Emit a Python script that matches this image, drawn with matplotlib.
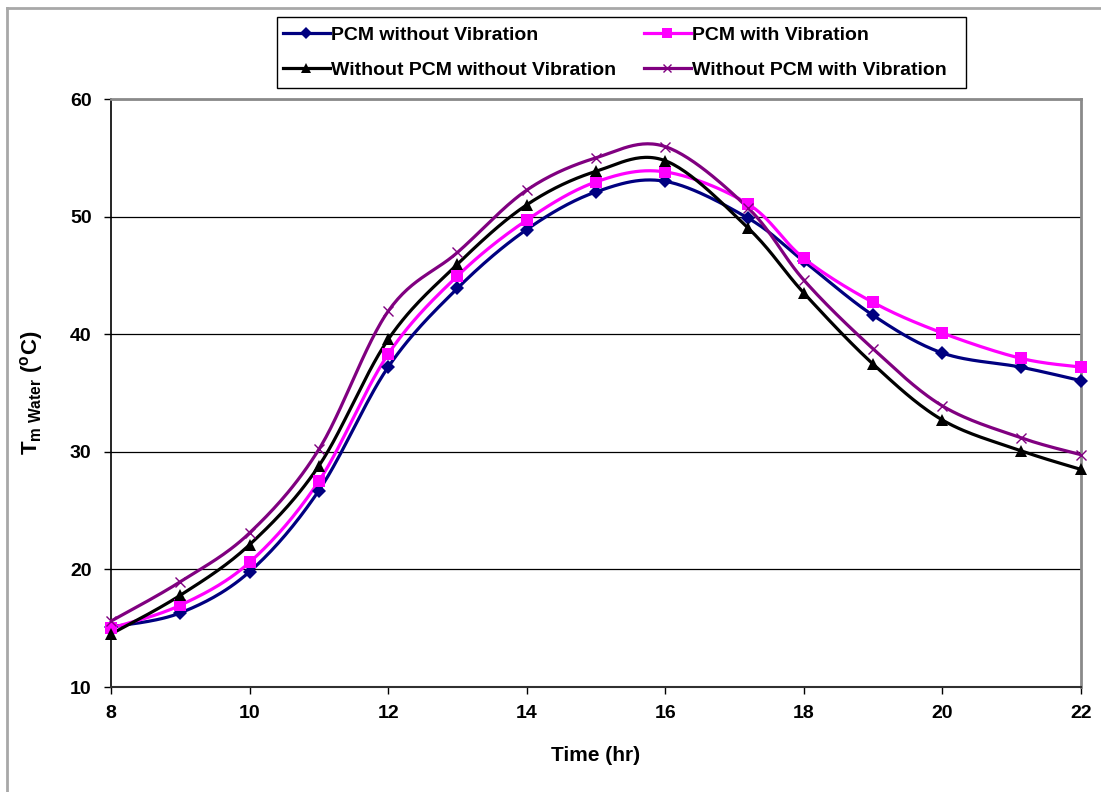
import numpy as np
import matplotlib
matplotlib.use("Agg")
import matplotlib.pyplot as plt
from matplotlib.lines import Line2D
from matplotlib.patches import Rectangle

plt.rcParams['font.family'] = ['Liberation Sans', 'DejaVu Sans']
plt.rcParams['font.weight'] = 'bold'
plt.rcParams['mathtext.fontset'] = 'custom'
plt.rcParams['mathtext.rm'] = 'Liberation Sans:bold'
plt.rcParams['mathtext.it'] = 'Liberation Sans:bold'
plt.rcParams['mathtext.bf'] = 'Liberation Sans:bold'

# Measurement times (hr)
time_hr = [8, 9, 10, 11, 12, 13, 14, 15, 16, 17.2, 18, 19, 20, 21.13, 22]

# Mean water temperature (°C) for each configuration
pcm_no_vib = [15.1, 16.3, 19.8, 26.7, 37.2, 43.9, 48.9, 52.1, 53.0, 49.85, 46.2, 41.6, 38.4, 37.2, 36.05]
pcm_vib = [15.0, 16.95, 20.6, 27.5, 38.3, 44.95, 49.7, 52.95, 53.8, 51.05, 46.45, 42.7, 40.1, 37.95, 37.2]
no_pcm_no_vib = [14.5, 17.8, 22.1, 28.8, 39.55, 45.95, 51.0, 53.85, 54.75, 49.0, 43.5, 37.45, 32.7, 30.1, 28.5]
no_pcm_vib = [15.6, 18.95, 23.1, 30.2, 41.95, 46.95, 52.25, 55.0, 55.95, 50.7, 44.6, 38.75, 33.9, 31.2, 29.75]

series_labels = ["PCM without Vibration", "PCM with Vibration",
                 "Without PCM without Vibration", "Without PCM with Vibration"]

x_ticks = [8, 10, 12, 14, 16, 18, 20, 22]
y_ticks = [10, 20, 30, 40, 50, 60]


def smooth(xs, ys, n=30):
    """Cubic Bezier smoothing through every point (Catmull-Rom style)."""
    p = np.column_stack([xs, ys]).astype(float)
    ext = np.vstack([p[0], p, p[-1]])
    out = []
    t = np.linspace(0, 1, n)[:, None]
    for i in range(len(p) - 1):
        p0, p1, p2, p3 = ext[i], ext[i + 1], ext[i + 2], ext[i + 3]
        c1 = p1 + (p2 - p0) / 6.0
        c2 = p2 - (p3 - p1) / 6.0
        seg = ((1 - t) ** 3) * p1 + 3 * ((1 - t) ** 2) * t * c1 + 3 * (1 - t) * t ** 2 * c2 + t ** 3 * p2
        out.append(seg if i == 0 else seg[1:])
    s = np.vstack(out)
    return s[:, 0], s[:, 1]


W, H = 1101, 792
fig = plt.figure(figsize=(W / 100, H / 100), dpi=100)
ax = fig.add_axes([111 / W, 1 - 687 / H, 970 / W, 588 / H])

styles = [
    dict(color="#000080", marker="D", ms=7.5, mew=0, lw=2.3),
    dict(color="#FF00FF", marker="s", ms=9, mew=0, lw=2.3),
    dict(color="#000000", marker="^", ms=8, mew=0, lw=2.3),
    dict(color="#800080", marker="x", ms=7, mew=1.0, lw=2.3),
]
all_series = [pcm_no_vib, pcm_vib, no_pcm_no_vib, no_pcm_vib]

handles = []
for ys, st, lab in zip(all_series, styles, series_labels):
    sx, sy = smooth(time_hr, ys)
    ax.plot(sx, sy, color=st["color"], lw=st["lw"], zorder=3, solid_capstyle="round")
    ax.plot(time_hr, ys, linestyle="none", marker=st["marker"], ms=st["ms"],
            color=st["color"], mec=st["color"], mew=st["mew"], zorder=4, clip_on=False)
    handles.append(Line2D([], [], color=st["color"], lw=st["lw"], marker=st["marker"],
                          ms=st["ms"] * 0.85, mew=st["mew"], mec=st["color"], label=lab))

ax.set_xlim(8, 22)
ax.set_ylim(10, 60)
ax.set_xticks(x_ticks)
ax.set_yticks(y_ticks)
ax.tick_params(axis="both", direction="out", length=5, width=1, labelsize=14, color="black")
ax.tick_params(axis="y", pad=9)
ax.tick_params(axis="x", pad=8)
for lbl in ax.get_xticklabels() + ax.get_yticklabels():
    lbl.set_fontweight("bold")

ax.yaxis.grid(True, color="black", lw=0.9)
ax.set_axisbelow(True)
ax.spines["left"].set_color("black")
ax.spines["bottom"].set_color("#303030")
ax.spines["left"].set_linewidth(1.2)
ax.spines["bottom"].set_linewidth(1.5)
ax.spines["top"].set_color("#8a8a8a")
ax.spines["right"].set_color("#8a8a8a")
ax.spines["top"].set_linewidth(2)
ax.spines["right"].set_linewidth(2)

ax.set_xlabel("Time (hr)", fontsize=15, fontweight="bold", labelpad=17)
ax.set_ylabel(r"T$_{\mathrm{m\ Water}}$ ($^{\mathrm{o}}$C)", fontsize=16, fontweight="bold", labelpad=18)

# Legend reads row by row: PCM cases on top, no-PCM cases below
leg_order = [0, 2, 1, 3]
leg = fig.legend(handles=[handles[i] for i in leg_order], ncol=2, loc="center left",
                 bbox_to_anchor=(283 / W, 1 - 52.5 / H),
                 fontsize=14, frameon=False,
                 handlelength=2.4, handletextpad=0.05, columnspacing=1.45,
                 borderpad=0, labelspacing=0.9, borderaxespad=0)
for t in leg.get_texts():
    t.set_fontweight("bold")

# Legend box
fig.add_artist(Rectangle((277 / W, 1 - 88 / H), 689 / W, 71 / H, transform=fig.transFigure,
                         fill=False, edgecolor="black", lw=1.0))

# Chart area border (left and top edges)
fig.add_artist(Line2D([7 / W, 7 / W], [0, 1 - 8 / H], transform=fig.transFigure,
                      color="#a8a8a8", lw=2))
fig.add_artist(Line2D([7 / W, 1], [1 - 8 / H, 1 - 8 / H], transform=fig.transFigure,
                      color="#a8a8a8", lw=2))

fig.savefig("out.png", dpi=100)
